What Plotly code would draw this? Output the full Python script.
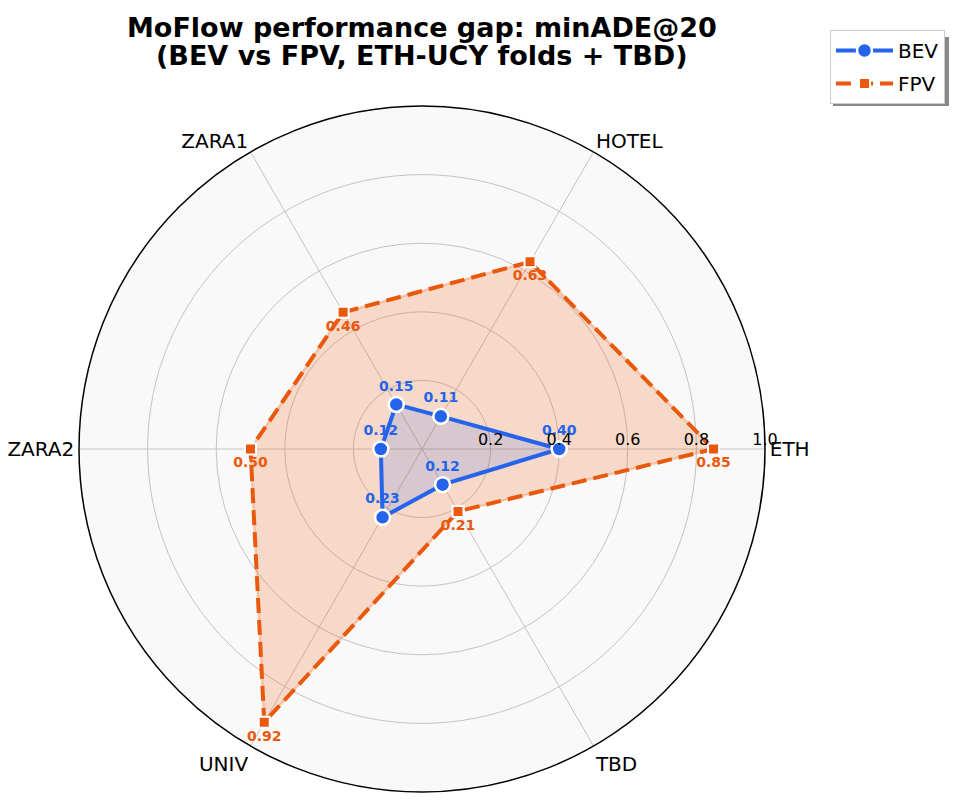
import plotly.graph_objects as go

categories = ['ETH', 'HOTEL', 'ZARA1', 'ZARA2', 'UNIV', 'TBD']
bev_values = [0.40, 0.11, 0.15, 0.12, 0.23, 0.12]
fpv_values = [0.85, 0.63, 0.46, 0.50, 0.92, 0.21]
radial_ticks = [0.2, 0.4, 0.6, 0.8, 1.0]

BEV_COLOR = '#2563eb'
FPV_COLOR = '#ea580c'
FONT = 'DejaVu Sans'
W, H = 961, 807
OFF = 8  # page body margin


def px(x):
    return (x - OFF) / W


def py(y):
    return 1 - (y - OFF) / H


def closed(vals):
    return list(vals) + [vals[0]]


def labels(vals):
    return ['%.2f' % v for v in vals] + ['']


fig = go.Figure()

# FPV: fill, then dashed outline with markers
fig.add_trace(go.Scatterpolar(
    r=closed(fpv_values), theta=closed(categories),
    mode='lines', fill='toself',
    fillcolor='rgba(234,88,12,0.2)',
    line=dict(color='rgba(234,88,12,0.25)', width=2.5),
    hoverinfo='skip', showlegend=False
))
fig.add_trace(go.Scatterpolar(
    r=closed(fpv_values), theta=closed(categories),
    mode='lines+markers+text', name='FPV', legendgroup='fpv', legendrank=2,
    line=dict(color=FPV_COLOR, width=4, dash='15px,7px'),
    marker=dict(symbol='square', size=11, color=FPV_COLOR,
                line=dict(color='white', width=2)),
    text=labels(fpv_values), textposition='bottom center',
    textfont=dict(family=FONT, size=14, color=FPV_COLOR, weight='bold')
))

# BEV: fill, then solid outline with markers
fig.add_trace(go.Scatterpolar(
    r=closed(bev_values), theta=closed(categories),
    mode='lines', fill='toself',
    fillcolor='rgba(37,99,235,0.15)',
    line=dict(color='rgba(37,99,235,0.2)', width=1),
    hoverinfo='skip', showlegend=False
))
fig.add_trace(go.Scatterpolar(
    r=closed(bev_values), theta=closed(categories),
    mode='lines+markers+text', name='BEV', legendgroup='bev', legendrank=1,
    line=dict(color=BEV_COLOR, width=4),
    marker=dict(symbol='circle', size=15, color=BEV_COLOR,
                line=dict(color='white', width=2.5)),
    text=labels(bev_values), textposition='top center',
    textfont=dict(family=FONT, size=14, color=BEV_COLOR, weight='bold')
))

title_font = dict(family=FONT, size=27, color='black', weight='bold')

fig.update_layout(
    width=W, height=H,
    margin=dict(l=0, r=0, t=0, b=0),
    paper_bgcolor='white',
    font=dict(family=FONT, color='black'),
    polar=dict(
        domain=dict(x=[px(79), px(765)], y=[py(792), py(106)]),
        bgcolor='#f9f9f9',
        angularaxis=dict(
            rotation=0, direction='counterclockwise',
            categoryorder='array', categoryarray=categories,
            showline=True, linecolor='black', linewidth=1.5,
            showgrid=True, gridcolor='#c4c4c4', gridwidth=1,
            ticks='', ticklen=0,
            tickfont=dict(family=FONT, size=20, color='black')
        ),
        radialaxis=dict(
            range=[0, 1.0], angle=0, side='counterclockwise',
            tickvals=radial_ticks, ticktext=['%.1f' % t for t in radial_ticks],
            showline=False, ticks='',
            showgrid=True, gridcolor='#c4c4c4', gridwidth=1,
            tickfont=dict(family=FONT, size=16, color='black')
        )
    ),
    legend=dict(
        x=px(945), xanchor='right', y=py(30), yanchor='top',
        traceorder='grouped', tracegroupgap=4, itemwidth=57,
        bgcolor='white', bordercolor='#cccccc', borderwidth=1,
        font=dict(family=FONT, size=20, color='black')
    ),
    annotations=[
        dict(text='MoFlow performance gap: minADE@20', xref='paper', yref='paper',
             x=px(422), y=py(27), xanchor='center', yanchor='middle',
             showarrow=False, font=title_font),
        dict(text='(BEV vs FPV, ETH-UCY folds + TBD)', xref='paper', yref='paper',
             x=px(422), y=py(56), xanchor='center', yanchor='middle',
             showarrow=False, font=title_font),
    ],
    shapes=[dict(
        type='rect', xref='paper', yref='paper', layer='below',
        x0=px(833), x1=px(949), y0=py(106), y1=py(37),
        fillcolor='#888888', line=dict(width=0)
    )]
)

fig.write_html('out.html')
